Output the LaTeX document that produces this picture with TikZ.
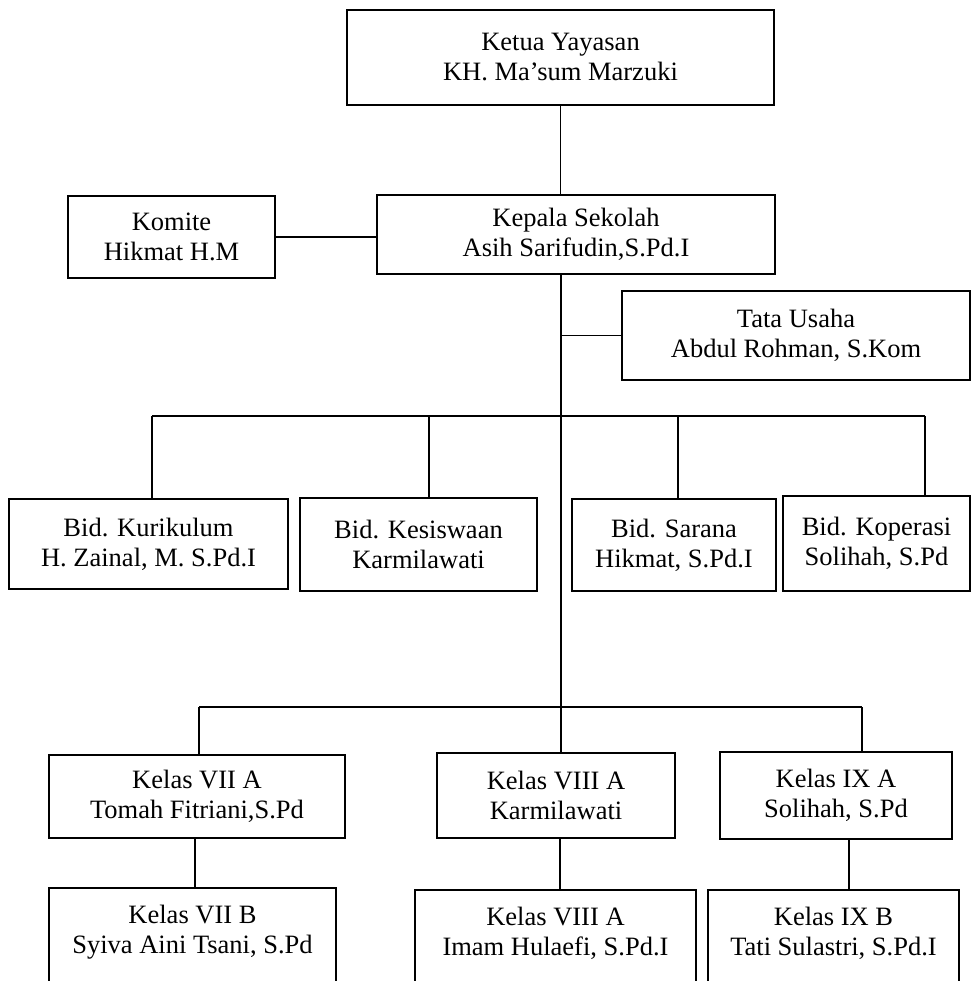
\documentclass[tikz,border=0pt]{standalone}
\usepackage{fontspec}
\setmainfont{Liberation Serif}
\newcommand\orgfont{\fontsize{26.5}{30}\selectfont}
\tikzset{
  box/.style={draw, line width=1.8pt, align=center, inner sep=0pt, font=\orgfont},
  frame/.style={draw=none, inner sep=0pt},
  txt/.style={align=center, inner sep=0pt, font=\orgfont},
  conn/.style={line width=1.6pt},
  side/.style={line width=1.8pt}
}
\begin{document}
\begin{tikzpicture}[x=1pt,y=1pt]
\useasboundingbox (0,0) rectangle (972,-981);
\clip (0,0) rectangle (972,-981);
% boxes
\node[box, minimum width=427pt, minimum height=95pt] (ketua) at (560.5,-57.5) {Ketua Yayasan\\KH. Ma’sum Marzuki};
\node[box, minimum width=398pt, minimum height=79pt] (kepala) at (576,-234.5) {Kepala Sekolah\\Asih Sarifudin,S.Pd.I};
\node[box, minimum width=207pt, minimum height=82pt] (komite) at (171.5,-237) {Komite\\Hikmat H.M};
\node[box, minimum width=348pt, minimum height=89pt] (tata) at (796,-335.5) {Tata Usaha\\Abdul Rohman, S.Kom};
\node[box, minimum width=279pt, minimum height=90pt] (kuri) at (148.5,-544) {Bid. Kurikulum\\H. Zainal, M. S.Pd.I};
\node[box, minimum width=237pt, minimum height=93pt] (kesis) at (418.5,-544.5) {Bid. Kesiswaan\\Karmilawati};
\node[box, minimum width=204pt, minimum height=92pt] (sarana) at (674,-545) {Bid. Sarana\\Hikmat, S.Pd.I};
\node[box, minimum width=187pt, minimum height=95pt] (kop) at (876.5,-543.5) {Bid. Koperasi\\Solihah, S.Pd};
\node[box, minimum width=296pt, minimum height=83pt] (viia) at (197,-796.5) {Kelas VII A\\Tomah Fitriani,S.Pd};
\node[box, minimum width=238pt, minimum height=85pt] (viiia) at (556,-795.5) {Kelas VIII A\\Karmilawati};
\node[box, minimum width=232pt, minimum height=87pt] (ixa) at (836,-795.5) {Kelas IX A\\Solihah, S.Pd};
% cut-off boxes at the bottom
\node[frame, minimum width=287pt, minimum height=150pt, anchor=north] (viib) at (192.5,-888) {};
\node[frame, minimum width=281pt, minimum height=150pt, anchor=north] (viiib) at (555.5,-890) {};
\node[frame, minimum width=251pt, minimum height=150pt, anchor=north] (ixb) at (833.5,-890) {};
\node[txt] (viibt) at (192.5,-932) {Kelas VII B\\Syiva Aini Tsani, S.Pd};
\node[txt] (viiibt) at (555.5,-933) {Kelas VIII A\\Imam Hulaefi, S.Pd.I};
\node[txt] (ixbt) at (833.5,-933) {Kelas IX B\\Tati Sulastri, S.Pd.I};
\foreach \n in {viib,viiib,ixb}{
  \draw[side] (\n.south west) -- (\n.north west) -- (\n.north east) -- (\n.south east);
}
% coordinates
\coordinate (sp) at (561,0);
\coordinate (b1) at (152,-416);
\coordinate (b2) at (429,-416);
\coordinate (b3) at (678,-416);
\coordinate (b4) at (925,-416);
\coordinate (k1) at (199,-707);
\coordinate (k3) at (862,-707);
\coordinate (l1) at (195,0);
\coordinate (l2) at (560,0);
\coordinate (l3) at (849,0);
% connectors
\draw[conn] (ketua.south) -- (ketua.south |- kepala.north);
\draw[conn] (komite.east) -- (komite.east -| kepala.west);
\draw[conn] (kepala.south -| sp) -- (viiia.north -| sp);
\draw[conn] (tata.west -| sp) -- (tata.west);
\draw[conn] (b1) -- (b4);
\draw[conn] (b1) -- (b1 |- kuri.north);
\draw[conn] (b2) -- (b2 |- kesis.north);
\draw[conn] (b3) -- (b3 |- sarana.north);
\draw[conn] (b4) -- (b4 |- kop.north);
\draw[conn] (k1) -- (k3);
\draw[conn] (k1) -- (k1 |- viia.north);
\draw[conn] (k3) -- (k3 |- ixa.north);
\draw[conn] (viia.south -| l1) -- (viib.north -| l1);
\draw[conn] (viiia.south -| l2) -- (viiib.north -| l2);
\draw[conn] (ixa.south -| l3) -- (ixb.north -| l3);
\end{tikzpicture}
\end{document}
